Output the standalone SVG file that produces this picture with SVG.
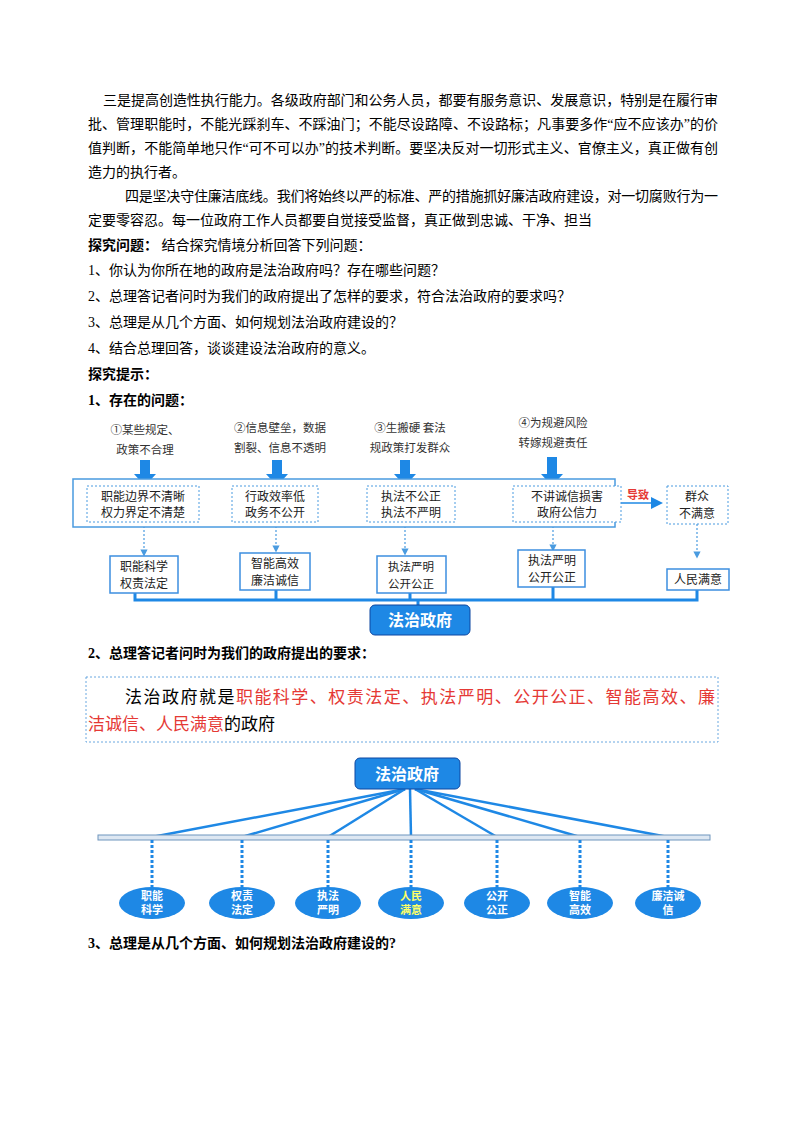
<svg xmlns="http://www.w3.org/2000/svg" width="800" height="1132" viewBox="0 0 800 1132">
<style>
text{font-family:"Liberation Serif","Noto Sans CJK SC",serif;fill:#000}
.p{font-size:14px}
.b{font-size:14px;font-weight:bold}
.s{font-family:"Noto Sans CJK SC",sans-serif;font-size:11.5px;fill:#333}
.m{font-family:"Noto Sans CJK SC",sans-serif;font-size:12px;fill:#222}
.dot{fill:#fff;stroke:#4a9be0;stroke-width:1;stroke-dasharray:2 2}
.sol{fill:#fff;stroke:#3c8ee0;stroke-width:1.5}
.blue{stroke:#1e88e5;fill:none}
.w{font-family:"Noto Sans CJK SC",sans-serif;font-weight:bold;fill:#fff}
</style>
<defs>
<marker id="ad" markerWidth="6" markerHeight="6" refX="3" refY="3" orient="auto"><path d="M0,0L6,3L0,6z" fill="#4a9be0"/></marker>
<marker id="ar" markerWidth="8" markerHeight="8" refX="6" refY="4" orient="auto"><path d="M0,0L8,4L0,8z" fill="#1e88e5"/></marker>
</defs>
<g id="text">
<text class="p" x="103" y="105" textLength="615" lengthAdjust="spacing">三是提高创造性执行能力。各级政府部门和公务人员，都要有服务意识、发展意识，特别是在履行审</text>
<text class="p" x="88" y="129" textLength="630" lengthAdjust="spacing">批、管理职能时，不能光踩刹车、不踩油门；不能尽设路障、不设路标；凡事要多作“应不应该办”的价</text>
<text class="p" x="88" y="153" textLength="630" lengthAdjust="spacing">值判断，不能简单地只作“可不可以办”的技术判断。要坚决反对一切形式主义、官僚主义，真正做有创</text>
<text class="p" x="88" y="177">造力的执行者。</text>
<text class="p" x="125" y="201" textLength="593" lengthAdjust="spacing">四是坚决守住廉洁底线。我们将始终以严的标准、严的措施抓好廉洁政府建设，对一切腐败行为一</text>
<text class="p" x="88" y="225">定要零容忍。每一位政府工作人员都要自觉接受监督，真正做到忠诚、干净、担当</text>
<text class="p" x="88" y="250"><tspan font-weight="bold">探究问题：</tspan> 结合探究情境分析回答下列问题：</text>
<text class="p" x="88" y="275">1、你认为你所在地的政府是法治政府吗？存在哪些问题？</text>
<text class="p" x="88" y="301">2、总理答记者问时为我们的政府提出了怎样的要求，符合法治政府的要求吗？</text>
<text class="p" x="88" y="327">3、总理是从几个方面、如何规划法治政府建设的？</text>
<text class="p" x="88" y="353">4、结合总理回答，谈谈建设法治政府的意义。</text>
<text class="b" x="88" y="379">探究提示：</text>
<text class="b" x="88" y="405">1、存在的问题：</text>
<text class="b" x="88" y="658">2、总理答记者问时为我们的政府提出的要求：</text>
<text class="b" x="88" y="948">3、总理是从几个方面、如何规划法治政府建设的?</text>
</g>
<g id="connectors">
<g fill="#1e88e5">
<path d="M140,460h10v14h6l-11,12l-11,-12h6z"/>
<path d="M272,460h10v14h6l-11,12l-11,-12h6z"/>
<path d="M400,460h10v14h6l-11,12l-11,-12h6z"/>
<path d="M547,457h10v17h6l-11,12l-11,-12h6z"/>
</g>
<g stroke="#4a9be0" stroke-width="1.2" stroke-dasharray="2 2" marker-end="url(#ad)">
<line x1="144" y1="522" x2="144" y2="553"/>
<line x1="276" y1="522" x2="276" y2="549"/>
<line x1="405" y1="522" x2="405" y2="552"/>
<line x1="553" y1="522" x2="553" y2="548"/>
<line x1="697" y1="524" x2="697" y2="555"/>
</g>
<line x1="615" y1="503" x2="660" y2="503" stroke="#1e88e5" stroke-width="1.5" marker-end="url(#ar)"/>
<path d="M135,592V600H697V590M276,590V600M410,593V600M553,586V600M418,600V606" class="blue" stroke-width="3"/>
<g class="blue" stroke-width="2.5">
<line x1="405" y1="789" x2="152" y2="837"/>
<line x1="405" y1="789" x2="242" y2="837"/>
<line x1="405" y1="789" x2="328" y2="837"/>
<line x1="410" y1="789" x2="411" y2="837"/>
<line x1="415" y1="789" x2="497" y2="837"/>
<line x1="415" y1="789" x2="580" y2="837"/>
<line x1="415" y1="789" x2="668" y2="837"/>
</g>
<rect x="98" y="835" width="612" height="5" fill="#dde7f2" stroke="#6f95bd" stroke-width="1"/>
<g stroke="#1e88e5" stroke-width="3" stroke-dasharray="3 2">
<line x1="152" y1="840" x2="152" y2="888"/>
<line x1="242" y1="840" x2="242" y2="888"/>
<line x1="328" y1="840" x2="328" y2="888"/>
<line x1="411" y1="840" x2="411" y2="888"/>
<line x1="497" y1="840" x2="497" y2="888"/>
<line x1="580" y1="840" x2="580" y2="888"/>
<line x1="668" y1="840" x2="668" y2="888"/>
</g>
</g>
<g id="problems">
<text class="s" text-anchor="middle" x="145" y="434">①某些规定、</text>
<text class="s" text-anchor="middle" x="145" y="454">政策不合理</text>
<text class="s" text-anchor="middle" x="280" y="432">②信息壁垒，数据</text>
<text class="s" text-anchor="middle" x="280" y="452">割裂、信息不透明</text>
<text class="s" text-anchor="middle" x="410" y="432">③生搬硬 套法</text>
<text class="s" text-anchor="middle" x="410" y="452">规政策打发群众</text>
<text class="s" text-anchor="middle" x="553" y="427">④为规避风险</text>
<text class="s" text-anchor="middle" x="553" y="447">转嫁规避责任</text>
</g>
<g id="bigbox"><rect x="73" y="479" width="542" height="48" fill="#fff" stroke="#4a9be0" stroke-width="1.5"/></g>
<g id="b1"><rect class="dot" x="87" y="486" width="112" height="36"/><text class="m" x="143" y="501" text-anchor="middle">职能边界不清晰</text><text class="m" x="143" y="517" text-anchor="middle">权力界定不清楚</text></g>
<g id="b2"><rect class="dot" x="232" y="486" width="86" height="36"/><text class="m" x="275" y="501" text-anchor="middle">行政效率低</text><text class="m" x="275" y="517" text-anchor="middle">政务不公开</text></g>
<g id="b3"><rect class="dot" x="367" y="486" width="88" height="36"/><text class="m" x="411" y="501" text-anchor="middle">执法不公正</text><text class="m" x="411" y="517" text-anchor="middle">执法不严明</text></g>
<g id="b4"><rect class="dot" x="513" y="486" width="108" height="36"/><text class="m" x="567" y="501" text-anchor="middle">不讲诚信损害</text><text class="m" x="567" y="517" text-anchor="middle">政府公信力</text></g>
<text x="638" y="499" text-anchor="middle" font-size="11" font-weight="bold" style="fill:#e53935;font-family:'Noto Sans CJK SC',sans-serif">导致</text>
<g id="b5"><rect class="dot" x="667" y="486" width="61" height="38"/><text class="m" x="697" y="501" text-anchor="middle">群众</text><text class="m" x="697" y="518" text-anchor="middle">不满意</text></g>
<g id="g1"><rect class="sol" x="110" y="556" width="68" height="37"/><text class="m" x="144" y="571" text-anchor="middle">职能科学</text><text class="m" x="144" y="588" text-anchor="middle">权责法定</text></g>
<g id="g2"><rect class="sol" x="240" y="553" width="70" height="37"/><text class="m" x="275" y="568" text-anchor="middle">智能高效</text><text class="m" x="275" y="585" text-anchor="middle">廉洁诚信</text></g>
<g id="g3"><rect class="sol" x="377" y="556" width="69" height="37"/><text class="s" style="fill:#222" x="411" y="571" text-anchor="middle">执法严明</text><text class="s" style="fill:#222" x="411" y="588" text-anchor="middle">公开公正</text></g>
<g id="g4"><rect class="sol" x="518" y="550" width="67" height="37"/><text class="m" x="552" y="565" text-anchor="middle">执法严明</text><text class="m" x="552" y="582" text-anchor="middle">公开公正</text></g>
<g id="g5"><rect class="sol" x="667" y="569" width="62" height="21"/><text class="m" x="698" y="584" text-anchor="middle">人民满意</text></g>
<g id="root1"><rect x="370" y="605" width="100" height="30" rx="5" fill="#1e88e5" stroke="#0d47a1" stroke-width="1"/><text class="w" x="420" y="626" font-size="16" text-anchor="middle">法治政府</text></g>
<g id="def">
<rect x="86" y="677" width="632" height="65" fill="none" stroke="#6aa8e0" stroke-width="1" stroke-dasharray="2 2"/>
<text x="125" y="703" font-size="17" textLength="590" lengthAdjust="spacing" style="font-family:'Noto Sans CJK SC',sans-serif">法治政府就是<tspan fill="#e53935">职能科学、权责法定、执法严明、公开公正、智能高效、廉</tspan></text>
<text x="88" y="730" font-size="17" style="font-family:'Noto Sans CJK SC',sans-serif"><tspan fill="#e53935">洁诚信、人民满意</tspan>的政府</text>
</g>
<g id="root2"><rect x="355" y="758" width="105" height="31" rx="5" fill="#1e88e5" stroke="#0d47a1" stroke-width="1"/><text class="w" x="407" y="780" font-size="16" text-anchor="middle">法治政府</text></g>
<g id="e1"><ellipse cx="152" cy="903" rx="33" ry="16" fill="#1e88e5"/><text class="w" font-size="11" x="152" y="900" text-anchor="middle">职能</text><text class="w" font-size="11" x="152" y="914" text-anchor="middle">科学</text></g>
<g id="e2"><ellipse cx="242" cy="903" rx="33" ry="16" fill="#1e88e5"/><text class="w" font-size="11" x="242" y="900" text-anchor="middle">权责</text><text class="w" font-size="11" x="242" y="914" text-anchor="middle">法定</text></g>
<g id="e3"><ellipse cx="328" cy="903" rx="33" ry="16" fill="#1e88e5"/><text class="w" font-size="11" x="328" y="900" text-anchor="middle">执法</text><text class="w" font-size="11" x="328" y="914" text-anchor="middle">严明</text></g>
<g id="e4"><ellipse cx="411" cy="903" rx="33" ry="16" fill="#1e88e5"/><text class="w" font-size="11" x="411" y="900" text-anchor="middle" style="fill:#ffff66">人民</text><text class="w" font-size="11" x="411" y="914" text-anchor="middle" style="fill:#ffff66">满意</text></g>
<g id="e5"><ellipse cx="497" cy="903" rx="33" ry="16" fill="#1e88e5"/><text class="w" font-size="11" x="497" y="900" text-anchor="middle">公开</text><text class="w" font-size="11" x="497" y="914" text-anchor="middle">公正</text></g>
<g id="e6"><ellipse cx="580" cy="903" rx="33" ry="16" fill="#1e88e5"/><text class="w" font-size="11" x="580" y="900" text-anchor="middle">智能</text><text class="w" font-size="11" x="580" y="914" text-anchor="middle">高效</text></g>
<g id="e7"><ellipse cx="668" cy="903" rx="33" ry="16" fill="#1e88e5"/><text class="w" font-size="11" x="668" y="900" text-anchor="middle">廉洁诚</text><text class="w" font-size="11" x="668" y="914" text-anchor="middle">信</text></g>
</svg>
